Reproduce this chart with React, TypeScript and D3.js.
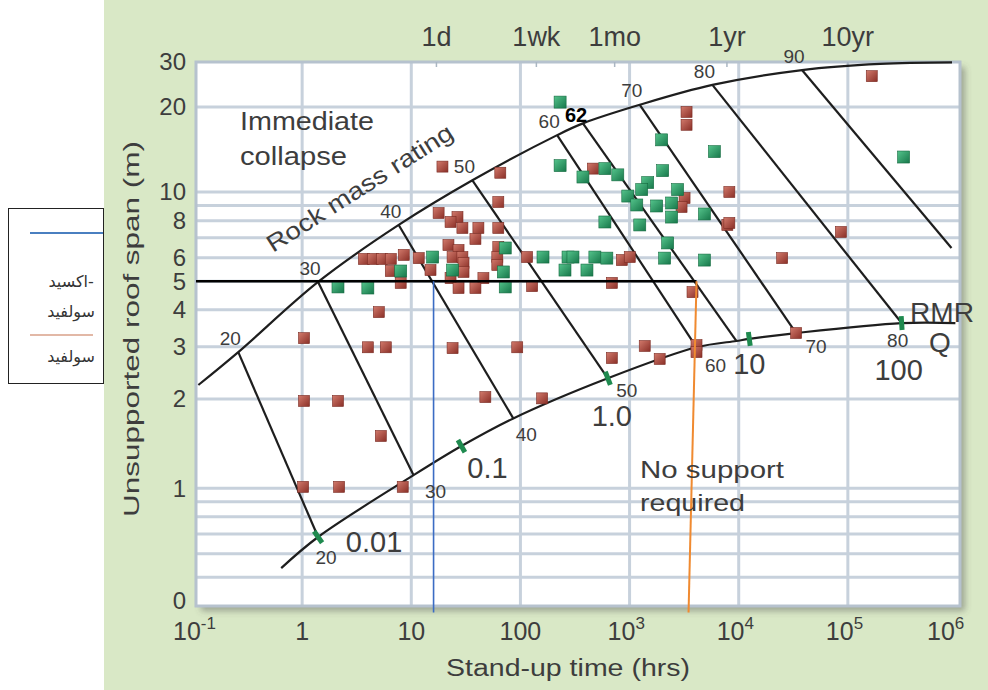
import React, { useEffect, useRef } from 'react';
import * as d3 from 'd3';

type Pt = [number, number];

// [stand-up time (hrs), unsupported roof span (m)]
const redPoints: Pt[] = [
  [1.04, 3.21], [4.0, 2.99], [5.84, 2.99], [1.04, 1.97], [2.13, 1.97], [5.26, 1.5],
  [1.02, 1.01], [2.18, 1.01], [8.35, 1.01], [5.04, 3.93], [3.68, 5.94], [4.44, 5.94],
  [5.37, 5.94], [6.49, 5.94], [8.53, 6.13], [6.49, 5.41], [8.0, 4.93], [11.7, 5.98],
  [19.3, 12.3], [65.4, 11.7], [62.7, 9.25], [17.8, 8.49], [26.5, 8.23], [22.9, 7.92],
  [29.4, 7.56], [41.2, 7.56], [62.7, 7.56], [38.7, 6.94], [21.9, 6.62], [27.1, 6.37],
  [62.7, 6.52], [23.9, 6.03], [29.4, 6.03], [30.1, 5.76], [61.4, 6.03], [115, 6.03],
  [15.0, 5.45], [30.1, 5.37], [61.4, 5.67], [22.9, 5.12], [45.8, 5.12], [27.1, 4.74],
  [38.7, 4.74], [128, 4.81], [461, 12.1], [3327, 19.2], [3327, 17.3], [3190, 9.54],
  [2994, 8.9], [7866, 7.74], [849, 5.89], [1004, 6.03], [688, 4.93], [3773, 4.59],
  [23.9, 2.97], [93.5, 2.99], [688, 2.75], [1377, 3.02], [1888, 2.73], [4105, 3.04],
  [4105, 2.88], [47.7, 2.03], [158, 2.01], [165600, 26.4], [8206, 10.0], [8206, 7.86],
  [86300, 7.33], [25000, 5.98], [33550, 3.34],
];

const greenPoints: Pt[] = [
  [2.13, 4.78], [4.0, 4.74], [8.0, 5.41], [15.7, 6.03], [23.9, 5.45], [72.6, 6.47],
  [69.7, 5.37], [72.6, 4.78], [161, 6.03], [273, 6.03], [256, 5.45], [231, 12.4],
  [231, 20.9], [374, 11.3], [594, 12.1], [780, 11.5], [1968, 15.3], [5988, 13.9],
  [2010, 11.9], [1466, 10.8], [1292, 10.2], [2754, 10.2], [963, 9.69], [1164, 9.04],
  [1771, 8.97], [2427, 9.18], [4853, 8.43], [2427, 8.23], [594, 7.92], [1240, 7.74],
  [2233, 6.73], [303, 6.03], [481, 6.03], [619, 5.98], [2094, 5.98], [4853, 5.89],
  [407, 5.45], [324000, 13.3],
];

// envelope curves
const upperEnvelope: Pt[] = [
  [0.112, 2.23], [0.26, 2.88], [1.4, 4.97], [7.67, 7.74], [36.3, 11.0], [217, 15.9],
  [374, 17.5], [1240, 20.4], [5740, 24.4], [38000, 27.9], [198000, 29.5], [900000, 29.9],
];
const lowerEnvelope: Pt[] = [
  [0.643, 0.537], [1.4, 0.684], [10.5, 1.106], [28.8, 1.387], [86, 1.72], [632, 2.35],
  [4105, 2.99], [9510, 3.14], [12500, 3.19], [33550, 3.34], [311000, 3.61], [967000, 3.61],
];

// rock mass rating lines
const rmrValues = [20, 30, 40, 50, 60, 62, 70, 80, 90];
const rmrTop: Pt[] = [
  [0.26, 2.88], [1.4, 4.97], [7.67, 7.74], [36.3, 11.0], [217, 15.9], [374, 17.5],
  [1240, 20.4], [5740, 24.4], [38000, 27.9],
];
const rmrBottom: Pt[] = [
  [1.4, 0.684], [10.5, 1.106], [86, 1.72], [632, 2.35], [4105, 2.99], [9510, 3.14],
  [33550, 3.34], [311000, 3.61], [890000, 6.47],
];

// Q values along the lower envelope
const qLabels = ['0.01', '0.1', '1.0', '10', '100'];
const qPoints: Pt[] = [[1.4, 0.684], [28.8, 1.387], [632, 2.35], [12500, 3.19], [311000, 3.61]];

const yTicks = [30, 20, 10, 8, 6, 5, 4, 3, 2, 1];
const yGrid = [20, 10, 9, 8, 7, 6, 5, 4, 3, 2, 1, 0.9, 0.8, 0.7, 0.6, 0.5];
const xDecades = [-1, 0, 1, 2, 3, 4, 5, 6];
const topLabels = ['1d', '1wk', '1mo', '1yr', '10yr'];
const topLabelHours = [17, 140, 730, 7800, 100000];

const designSpan = 5;
const designEndHrs = 4105;
const blueHrs = 16;
const orangeHrs: Pt = [4105, 3470];
const lineFootSpan = 0.38;

const legendLabels = ['اکسید', 'سولفید', 'سولفید'];

// label placement (pixels)
const upperLabelOffset: Pt = [-8, -14];
const lowerLabelOffsets: (Pt | null)[] = [[8, 20], [22, 16], [13, 16], [19, 12], [19, 18], null, [20, 13], [-4, 17], null];
const qLabelOffsets: Pt[] = [[56, 5], [26, 22], [4, 38], [0, 25], [-3, 47]];

const FONT = '"Liberation Sans", Arial, Helvetica, sans-serif';
const TXT = '#3d3d3d';

export default function App() {
  const svgRef = useRef<SVGSVGElement>(null);

  useEffect(() => {
    if (!svgRef.current) return;
    const svg = d3.select(svgRef.current);
    svg.selectAll('*').remove();

    const x = d3.scaleLog().domain([0.1, 1e6]).range([193, 957]);
    const y = d3.scaleLog().domain([0.4, 10, 20, 30]).range([606, 192, 107, 62]);
    const left = 196, right = 960, top = 62, bottom = 606;
    const px = (d: Pt): Pt => [x(d[0]), y(d[1])];

    const defs = svg.append('defs');
    const f = defs.append('filter').attr('id', 'shadow').attr('x', '-5%').attr('y', '-5%').attr('width', '112%').attr('height', '112%');
    f.append('feDropShadow').attr('dx', 5).attr('dy', 5).attr('stdDeviation', 3)
      .attr('flood-color', '#555').attr('flood-opacity', 0.45);
    const grad = (id: string, c1: string, c2: string) => {
      const lg = defs.append('linearGradient').attr('id', id).attr('x1', 0).attr('y1', 0).attr('x2', 1).attr('y2', 1);
      lg.append('stop').attr('offset', '0%').attr('stop-color', c1);
      lg.append('stop').attr('offset', '100%').attr('stop-color', c2);
    };
    grad('gRed', '#d27a6c', '#8a2f27');
    grad('gGreen', '#55c48c', '#17774a');
    defs.append('clipPath').attr('id', 'plotClip').append('rect')
      .attr('x', left).attr('y', top).attr('width', right - left).attr('height', bottom - top);

    svg.append('rect').attr('width', 988).attr('height', 690).attr('fill', '#fff');
    svg.append('rect').attr('x', 104).attr('y', 0).attr('width', 884).attr('height', 690).attr('fill', '#d9e8c6');

    // legend
    const lg = svg.append('g').attr('font-family', '"DejaVu Sans", sans-serif').attr('font-size', 16).attr('fill', '#333');
    lg.append('rect').attr('x', 8.5).attr('y', 208.5).attr('width', 95).attr('height', 175)
      .attr('fill', '#fff').attr('stroke', '#222').attr('stroke-width', 1);
    lg.append('line').attr('x1', 30).attr('x2', 103).attr('y1', 233).attr('y2', 233)
      .attr('stroke', '#4a7fc0').attr('stroke-width', 2);
    lg.append('line').attr('x1', 30).attr('x2', 93).attr('y1', 335).attr('y2', 335)
      .attr('stroke', '#d9a088').attr('stroke-width', 1.5);
    [287, 317, 362].forEach((yy, i) => {
      lg.append('text').attr('x', i === 0 ? 88 : 95).attr('y', yy).attr('text-anchor', 'end').text(legendLabels[i]);
    });
    lg.append('text').attr('x', 88).attr('y', 287).text('-');

    // plot frame
    svg.append('rect').attr('x', left).attr('y', top).attr('width', right - left).attr('height', bottom - top)
      .attr('fill', '#fff').attr('filter', 'url(#shadow)');

    const grid = svg.append('g').attr('clip-path', 'url(#plotClip)')
      .attr('stroke', '#c7d1dc').attr('stroke-width', 3);
    yGrid.forEach(v => grid.append('line').attr('x1', left).attr('x2', right).attr('y1', y(v)).attr('y2', y(v)));
    xDecades.slice(1, -1).forEach(k => grid.append('line')
      .attr('x1', x(Math.pow(10, k))).attr('x2', x(Math.pow(10, k))).attr('y1', top).attr('y2', bottom));

    svg.append('rect').attr('x', left).attr('y', top).attr('width', right - left).attr('height', bottom - top)
      .attr('fill', 'none').attr('stroke', '#b6c2ce').attr('stroke-width', 3);

    // top time ticks
    topLabelHours.forEach(h => svg.append('line').attr('x1', x(h)).attr('x2', x(h))
      .attr('y1', top).attr('y2', top + 5).attr('stroke', '#aab6c2').attr('stroke-width', 1.5));

    // envelopes and RMR lines
    const curve = d3.line<Pt>().x(d => d[0]).y(d => d[1]).curve(d3.curveCatmullRom.alpha(0.5));
    const lines = svg.append('g').attr('fill', 'none').attr('stroke', '#1e1e1e').attr('stroke-width', 2.2);
    lines.append('path').attr('d', curve(upperEnvelope.map(px)));
    lines.append('path').attr('d', curve(lowerEnvelope.map(px)));
    rmrValues.forEach((_, i) => {
      const a = px(rmrTop[i]), b = px(rmrBottom[i]);
      lines.append('line').attr('x1', a[0]).attr('y1', a[1]).attr('x2', b[0]).attr('y2', b[1]);
    });

    // Q ticks (green), drawn across the lower envelope
    qPoints.forEach(q => {
      const p = px(q);
      const prev = [...lowerEnvelope].reverse().find(d => d[0] < q[0]) || lowerEnvelope[0];
      const next = lowerEnvelope.find(d => d[0] > q[0]) || lowerEnvelope[lowerEnvelope.length - 1];
      const a = px(prev), b = px(next);
      const dx = b[0] - a[0], dy = b[1] - a[1];
      const len = Math.hypot(dx, dy);
      const nx = -dy / len, ny = dx / len;
      svg.append('line').attr('x1', p[0] - nx * 7).attr('y1', p[1] - ny * 7)
        .attr('x2', p[0] + nx * 7).attr('y2', p[1] + ny * 7)
        .attr('stroke', '#1f8a4f').attr('stroke-width', 5);
    });

    // points
    const pts = svg.append('g');
    pts.selectAll('rect.red').data(redPoints).join('rect').attr('class', 'red')
      .attr('x', d => x(d[0]) - 5.5).attr('y', d => y(d[1]) - 5.5).attr('width', 11).attr('height', 11)
      .attr('fill', 'url(#gRed)').attr('stroke', '#7a2a22').attr('stroke-width', 0.6);
    pts.selectAll('rect.green').data(greenPoints).join('rect').attr('class', 'green')
      .attr('x', d => x(d[0]) - 6).attr('y', d => y(d[1]) - 6).attr('width', 12).attr('height', 12)
      .attr('fill', 'url(#gGreen)').attr('stroke', '#146b40').attr('stroke-width', 0.6);

    // design lines
    svg.append('line').attr('x1', left).attr('x2', x(designEndHrs)).attr('y1', y(designSpan)).attr('y2', y(designSpan))
      .attr('stroke', '#000').attr('stroke-width', 2.5);
    svg.append('line').attr('x1', x(blueHrs)).attr('x2', x(blueHrs)).attr('y1', y(designSpan)).attr('y2', y(lineFootSpan))
      .attr('stroke', '#3b6cc4').attr('stroke-width', 1.6);
    svg.append('line').attr('x1', x(orangeHrs[0])).attr('x2', x(orangeHrs[1])).attr('y1', y(designSpan)).attr('y2', y(lineFootSpan))
      .attr('stroke', '#f08a30').attr('stroke-width', 2);

    // RMR labels
    const lab = svg.append('g').attr('font-family', FONT).attr('fill', TXT);
    rmrValues.forEach((v, i) => {
      const a = px(rmrTop[i]);
      if (v === 62) {
        lab.append('text').attr('x', a[0] - 18).attr('y', a[1] - 1).attr('font-size', 20)
          .attr('font-weight', 'bold').attr('fill', '#000').text(String(v));
      } else {
        lab.append('text').attr('x', a[0] + upperLabelOffset[0]).attr('y', a[1] + upperLabelOffset[1])
          .attr('dy', '0.35em').attr('text-anchor', 'middle').attr('font-size', 19).text(String(v));
      }
      const off = lowerLabelOffsets[i];
      if (off) {
        const b = px(rmrBottom[i]);
        lab.append('text').attr('x', b[0] + off[0]).attr('y', b[1] + off[1])
          .attr('dy', '0.35em').attr('text-anchor', 'middle').attr('font-size', 19).text(String(v));
      }
    });
    qLabels.forEach((t, i) => {
      const p = px(qPoints[i]);
      lab.append('text').attr('x', p[0] + qLabelOffsets[i][0]).attr('y', p[1] + qLabelOffsets[i][1])
        .attr('dy', '0.35em').attr('text-anchor', 'middle').attr('font-size', 29).text(t);
    });
    lab.append('text').attr('x', 942).attr('y', 312).attr('dy', '0.35em').attr('text-anchor', 'middle')
      .attr('font-size', 28).attr('textLength', 64).attr('lengthAdjust', 'spacingAndGlyphs').text('RMR');
    lab.append('text').attr('x', 940).attr('y', 342).attr('dy', '0.35em').attr('text-anchor', 'middle')
      .attr('font-size', 28).text('Q');

    // annotations
    const ann = svg.append('g').attr('font-family', FONT).attr('fill', TXT).attr('font-size', 25);
    ann.append('text').attr('x', 240).attr('y', 130).attr('textLength', 134).attr('lengthAdjust', 'spacingAndGlyphs').text('Immediate');
    ann.append('text').attr('x', 240).attr('y', 165).attr('textLength', 107).attr('lengthAdjust', 'spacingAndGlyphs').text('collapse');
    ann.append('text').attr('transform', 'translate(273,253) rotate(-32.5)').attr('font-size', 24)
      .attr('textLength', 216).attr('lengthAdjust', 'spacingAndGlyphs').text('Rock mass rating');
    ann.append('text').attr('x', 640).attr('y', 478).attr('font-size', 24).attr('textLength', 144).attr('lengthAdjust', 'spacingAndGlyphs').text('No support');
    ann.append('text').attr('x', 640).attr('y', 511).attr('font-size', 24).attr('textLength', 105).attr('lengthAdjust', 'spacingAndGlyphs').text('required');

    // axes
    const ax = svg.append('g').attr('font-family', FONT).attr('fill', TXT);
    yTicks.forEach(v => ax.append('text').attr('x', 186).attr('y', y(v)).attr('dy', '0.35em')
      .attr('text-anchor', 'end').attr('font-size', 24).text(String(v)));
    ax.append('text').attr('x', 186).attr('y', y(0.4) - 5).attr('dy', '0.35em')
      .attr('text-anchor', 'end').attr('font-size', 24).text('0');

    xDecades.forEach(k => {
      const v = Math.pow(10, k);
      const cx = x(v);
      const t = ax.append('text').attr('y', 640).attr('font-size', 25);
      if (k >= 0 && k <= 2) {
        t.attr('x', cx).attr('text-anchor', 'middle').text(String(v));
      } else {
        t.attr('x', cx + (k === -1 ? -20 : k === 6 ? -30 : -22)).attr('text-anchor', 'start');
        t.append('tspan').text('10');
        t.append('tspan').attr('dy', -11).attr('font-size', 17).text(String(k));
      }
    });

    topLabels.forEach((t, i) => ax.append('text').attr('x', x(topLabelHours[i])).attr('y', 46)
      .attr('text-anchor', 'middle').attr('font-size', 27).text(t));

    ax.append('text').attr('x', 568).attr('y', 676).attr('text-anchor', 'middle').attr('font-size', 23)
      .attr('textLength', 244).attr('lengthAdjust', 'spacingAndGlyphs').text('Stand-up time (hrs)');
    ax.append('text').attr('transform', 'translate(139,329) rotate(-90)').attr('text-anchor', 'middle')
      .attr('font-size', 22).attr('textLength', 376).attr('lengthAdjust', 'spacingAndGlyphs')
      .text('Unsupported roof span (m)');
  }, []);

  return (
    <div style={{ position: 'absolute', left: 0, top: 0 }}>
      <svg ref={svgRef} width={988} height={690} style={{ display: 'block' }} />
    </div>
  );
}
